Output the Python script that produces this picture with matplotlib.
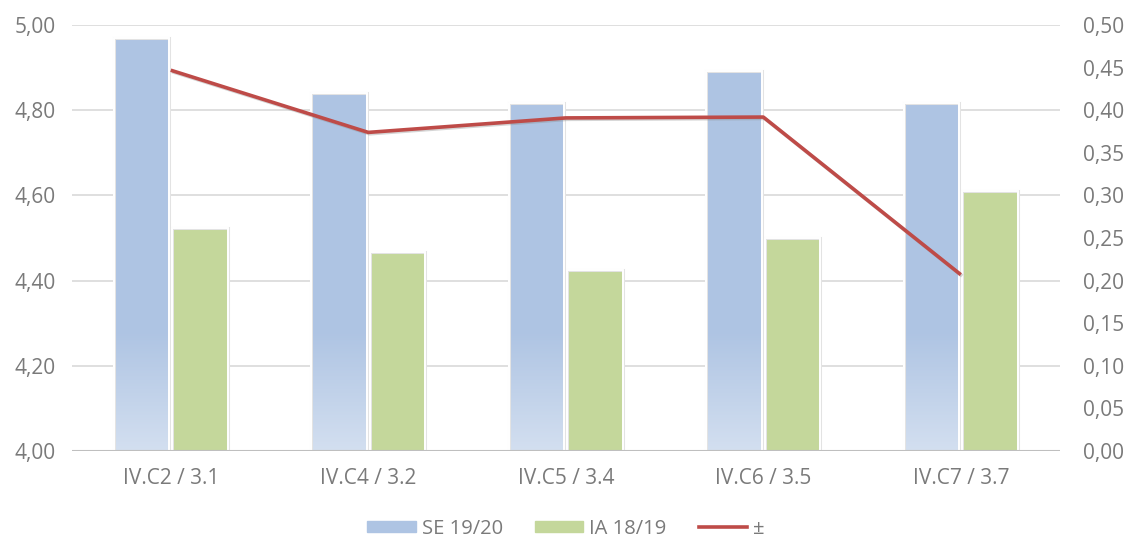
import numpy as np
import matplotlib
matplotlib.use("Agg")
import matplotlib.pyplot as plt
import matplotlib.patheffects as pe
from matplotlib.colors import LinearSegmentedColormap
from matplotlib.ticker import FixedLocator, FuncFormatter
from matplotlib.patches import Patch
from matplotlib.lines import Line2D

plt.rcParams['font.family'] = ['Open Sans', 'DejaVu Sans']

categories = ["IV.C2 / 3.1", "IV.C4 / 3.2", "IV.C5 / 3.4", "IV.C6 / 3.5", "IV.C7 / 3.7"]
se_1920 = [4.97, 4.84, 4.817, 4.892, 4.817]
ia_1819 = [4.523, 4.467, 4.425, 4.50, 4.61]
diff = [0.447, 0.374, 0.391, 0.392, 0.207]

left_ticks = [4.0, 4.2, 4.4, 4.6, 4.8, 5.0]
right_ticks = [0.0, 0.05, 0.10, 0.15, 0.20, 0.25, 0.30, 0.35, 0.40, 0.45, 0.50]

blue = '#AEC4E3'
green = '#C4D79B'
red = '#BE4B48'
text_grey = '#7A7A7A'
grid_grey = '#D9D9D9'

fig = plt.figure(figsize=(11.32, 5.45), dpi=100)
ax = fig.add_axes([0.0636, 0.1725, 0.8724, 0.7815])
ax2 = ax.twinx()

x = np.arange(len(categories))
w = 0.28
gap = 0.008

bars_se = ax.bar(x - w / 2 - gap, np.array(se_1920) - 4.0, w, bottom=4.0,
                 color=blue, linewidth=0, zorder=3)
bars_ia = ax.bar(x + w / 2 + gap, np.array(ia_1819) - 4.0, w, bottom=4.0,
                 color=green, linewidth=0, zorder=3)

# gradient fading towards the bottom of the blue bars
grad = np.linspace(0, 1, 256).reshape(-1, 1)
cmap = LinearSegmentedColormap.from_list('fade', ['#D3DFF0', blue])
for b in bars_se:
    bx, bw = b.get_x(), b.get_width()
    im = ax.imshow(grad, cmap=cmap, aspect='auto', origin='lower',
                   extent=[bx, bx + bw, 4.0, 4.28], zorder=3.5, vmin=0, vmax=1)
    im.set_clip_path(b)

# white outlines with a faint shadow
for vals, offs in ((se_1920, -w / 2 - gap), (ia_1819, w / 2 + gap)):
    ax.bar(x + offs, np.array(vals) - 4.0, w, bottom=4.0, fill=False,
           edgecolor='white', linewidth=1.2, zorder=3.8,
           path_effects=[pe.withStroke(linewidth=2.2, foreground='#E3E3E3'), pe.Normal()])

ax.set_xlim(-0.5, len(categories) - 0.5)
ax.set_ylim(4.0, 5.0)
ax.yaxis.set_major_locator(FixedLocator(left_ticks))
ax.yaxis.set_major_formatter(FuncFormatter(lambda v, p: f"{v:.2f}".replace('.', ',')))
ax.grid(axis='y', color=grid_grey, linewidth=1.2, zorder=0)
ax.set_axisbelow(True)
ax.set_xticks(x)
ax.set_xticklabels(categories)

ax2.set_ylim(0.0, 0.5)
ax2.yaxis.set_major_locator(FixedLocator(right_ticks))
ax2.yaxis.set_major_formatter(FuncFormatter(lambda v, p: f"{v:.2f}".replace('.', ',')))

ax2.plot(x, diff, color=red, linewidth=2.6, solid_capstyle='butt', zorder=5,
         path_effects=[pe.SimpleLineShadow(offset=(1, -1), shadow_color='#888888', alpha=0.35),
                       pe.Normal()])

for a in (ax, ax2):
    for s in ('top', 'left', 'right', 'bottom'):
        a.spines[s].set_visible(False)
    a.tick_params(length=0, labelsize=15, labelcolor=text_grey)
ax.axhline(4.0, color='#BFBFBF', linewidth=1.5, zorder=4)
ax.tick_params(axis='y', pad=12)
ax2.tick_params(axis='y', pad=17)
ax.tick_params(axis='x', pad=12)

ax.set_zorder(ax2.get_zorder() - 1)
ax2.patch.set_visible(False)

handles = [Patch(color=blue), Patch(color=green), Line2D([], [], color=red, linewidth=2.6)]
fig.legend(handles, ["SE 19/20", "IA 18/19", "±"], loc='lower center',
           bbox_to_anchor=(0.5, -0.022), ncol=3, frameon=False, fontsize=14.5,
           labelcolor=text_grey, handlelength=2.4, handleheight=0.5,
           columnspacing=1.6, handletextpad=0.3)

fig.savefig('out.png', dpi=100)
